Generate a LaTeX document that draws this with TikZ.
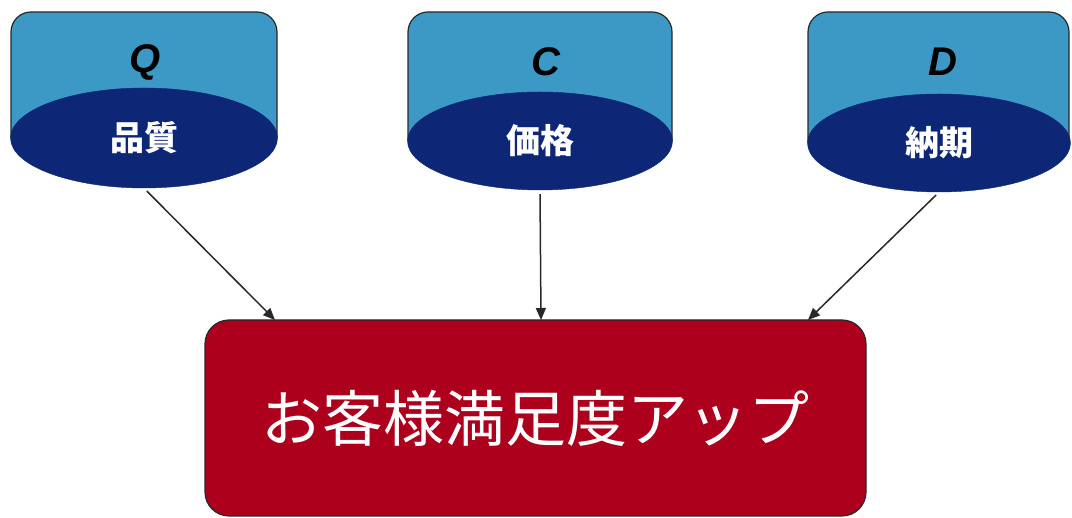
\documentclass[tikz,border=0pt]{standalone}
\usepackage{fontspec}
\setmainfont{Liberation Sans}
\newfontfamily\jp{Noto Sans CJK JP}
\usetikzlibrary{shapes.geometric,arrows.meta,calc}
\definecolor{topblue}{RGB}{60,152,196}
\definecolor{navy}{RGB}{14,38,118}
\definecolor{boxred}{RGB}{172,0,28}
\definecolor{edge}{RGB}{40,40,40}
\tikzset{
  topbox/.style={fill=topblue,draw=edge,line width=1.2pt},
  lens/.style={ellipse,fill=navy,draw=navy,inner sep=0pt,text=white,font=\jp\bfseries\fontsize{34}{34}\selectfont},
  letter/.style={font=\bfseries\itshape\fontsize{40}{40}\selectfont,text=black},
  goalbox/.style={rectangle,rounded corners=24pt,fill=boxred,draw=edge,line width=1.2pt,inner sep=0pt,text=white,font=\jp\fontsize{61}{61}\selectfont},
  link/.style={draw=edge,line width=1.5pt,-{Triangle[length=12pt,width=10pt]},shorten <=4pt}
}
\begin{document}
\begin{tikzpicture}[x=1pt,y=1pt]
\useasboundingbox[fill=white] (0,0) rectangle (1072,518);
% Q
\draw[topbox,rounded corners=20pt] (11,380) -- (11,506) -- (277,506) [sharp corners]-- (277,380);
\node[lens,minimum width=267pt,minimum height=100pt] (q) at (144,380) {品質};
\node[letter] (ql) at (145,456) {Q};
% C
\draw[topbox,rounded corners=20pt] (408,377) -- (408,506) -- (672,506) [sharp corners]-- (672,377);
\node[lens,minimum width=265pt,minimum height=98pt] (c) at (540,377) {価格};
\node[letter] (cl) at (546,456) {C};
% D
\draw[topbox,rounded corners=20pt] (808,375) -- (808,506) -- (1069,506) [sharp corners]-- (1069,375);
\node[lens,minimum width=263pt,minimum height=98pt] (d) at (939,375) {納期};
\node[letter] (dl) at (943,456) {D};
% goal
\node[goalbox,minimum width=661pt,minimum height=196pt] (g) at (535.5,100) {お客様満足度アップ};
\coordinate (g1) at (275,198);
\coordinate (g2) at (541,198);
\coordinate (g3) at (808,198);
\draw[link] (q.south) -- (g1);
\draw[link] (c.south) -- (g2);
\draw[link] (d.south) -- (g3);
\end{tikzpicture}
\end{document}
